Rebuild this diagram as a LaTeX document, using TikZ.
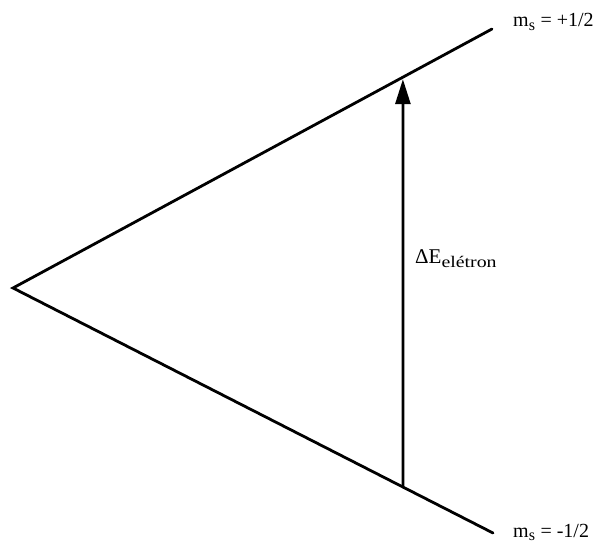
\documentclass[tikz,border=0pt]{standalone}
\usepackage{fontspec}
\setmainfont{Liberation Serif}
\usetikzlibrary{arrows.meta,calc}
\tikzset{
  level/.style={line width=2.8pt, line cap=round},
  trans/.style={line width=2.8pt, -{Triangle[length=25pt,width=15pt]}},
  lbl/.style={anchor=base west, inner sep=0pt, font=\fontsize{20}{22}\selectfont},
}
\begin{document}
\begin{tikzpicture}[x=1pt,y=-1pt]
\useasboundingbox (0,0) rectangle (596,548);
\coordinate (V) at (13,288);
\coordinate (T) at (492,29);
\coordinate (B) at (493,533);
\coordinate (A1) at ($(V)!0.8125!(B)$);
\coordinate (A2) at ($(V)!0.814!(T)$);
\draw[level] (T) -- (V) -- (B);
\draw[trans] (A1) -- ($(A2)+(0,2)$);
\node[lbl] (up) at (513,27) {m\textsubscript{\scalebox{1.15}{s}} = +1/2};
\node[lbl] (dn) at (513,537) {m\textsubscript{\scalebox{1.15}{s}} = -1/2};
\node[lbl, font=\fontsize{21}{23}\selectfont] (de) at (415,263) {ΔE\textsubscript{\scalebox{1.35}[1.1]{elétron}}};
\end{tikzpicture}
\end{document}
